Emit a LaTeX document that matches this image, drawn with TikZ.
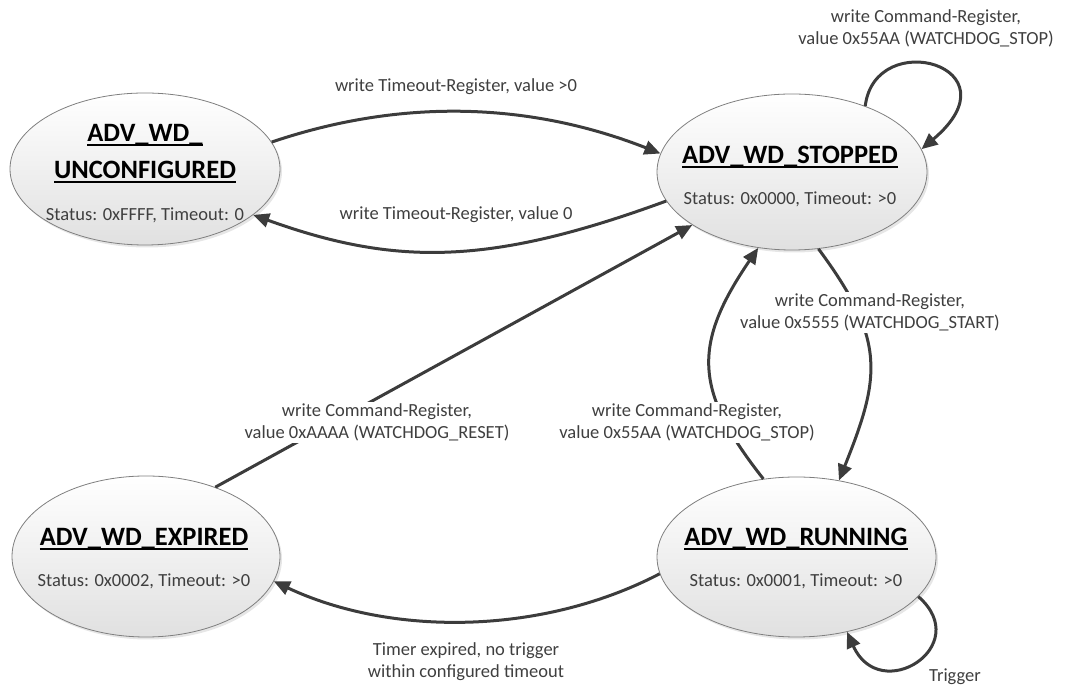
\documentclass[tikz,border=0pt]{standalone}
\usepackage{fontspec}
\setmainfont{Carlito}
\usetikzlibrary{arrows.meta,shadows,shapes.geometric}
\definecolor{edgec}{HTML}{3C3C3C}
\definecolor{txtc}{HTML}{3F3F3F}
\definecolor{borderc}{HTML}{7F7F7F}
\newcommand\ulbox[1]{\setbox0\hbox{#1}\rlap{\raisebox{-4.5bp}{\rule{\wd0}{2.2bp}}}\box0}
\tikzset{
 state/.style={ellipse, draw=borderc, line width=0.8bp, inner sep=0pt,
   top color=white, bottom color=black!12,
   drop shadow={shadow xshift=2bp, shadow yshift=-2.5bp, opacity=0.2}},
 ttl/.style={anchor=base, inner sep=0pt, font=\fontsize{26.5bp}{30bp}\selectfont\bfseries, text=black},
 stat/.style={anchor=base, inner sep=0pt, font=\fontsize{18.5bp}{22bp}\selectfont, text=txtc},
 lbl/.style={align=center, inner sep=1.5bp, font=\fontsize{18.5bp}{22bp}\selectfont, text=txtc},
 conn/.style={draw=edgec, line width=3bp, -{Triangle[length=16bp,width=14bp]}},
}
\begin{document}
\begin{tikzpicture}[x=1bp,y=1bp]
\useasboundingbox (0,0) rectangle (1067,686);

% states
\node[state, minimum width=270bp, minimum height=152bp] (unconf) at (145,517) {};
\node[state, minimum width=270bp, minimum height=156bp] (stopped) at (792,514) {};
\node[state, minimum width=279bp, minimum height=160bp] (running) at (796.5,129) {};
\node[state, minimum width=268bp, minimum height=161bp] (expired) at (146,129.5) {};

% state texts
\node[ttl] (tu1) at (145,544) {\ulbox{ADV\_WD\_}};
\node[ttl] (tu2) at (145,507) {\ulbox{UNCONFIGURED}};
\node[stat] (su) at (145,465) {Status: 0xFFFF, Timeout: 0};
\node[ttl] (ts) at (790,522) {\ulbox{ADV\_WD\_STOPPED}};
\node[stat] (ss) at (790,481) {Status: 0x0000, Timeout: >0};
\node[ttl] (tr) at (796,140) {\ulbox{ADV\_WD\_RUNNING}};
\node[stat] (sr) at (796,99) {Status: 0x0001, Timeout: >0};
\node[ttl] (te) at (144,140) {\ulbox{ADV\_WD\_EXPIRED}};
\node[stat] (se) at (144,99) {Status: 0x0002, Timeout: >0};

% connectors
\draw[conn] (unconf.12) .. controls (396,586) and (524,586) .. (stopped.172);
\draw[conn] (stopped.193) .. controls (489,420) and (395,420) .. (unconf.337);
\draw[conn] (expired.45) -- (stopped.208);
\draw[conn] (stopped.289) .. controls (886,346) and (881,310) .. (running.61);
\draw[conn] (running.113) .. controls (694,295) and (692,341) .. (stopped.246);
\draw[conn] (running.187) .. controls (540,50) and (390,50) .. (expired.349);
\draw[conn] (stopped.42) .. controls (875,660) and (1020,620) .. (stopped.10);
\draw[conn] (running.342) .. controls (975,40) and (880,-20) .. (running.304);

% labels
\node[lbl] (l1) at (456,599) {write Timeout-Register, value >0};
\node[lbl] (l2) at (456,471) {write Timeout-Register, value 0};
\node[lbl] (l3) at (926,657.5) {write Command-Register,\\value 0x55AA (WATCHDOG\_STOP)};
\node[lbl, fill=white] (l4) at (870,373.5) {write Command-Register,\\value 0x5555 (WATCHDOG\_START)};
\node[lbl, fill=white] (l5) at (687,263.5) {write Command-Register,\\value 0x55AA (WATCHDOG\_STOP)};
\node[lbl, fill=white] (l6) at (377,263.5) {write Command-Register,\\value 0xAAAA (WATCHDOG\_RESET)};
\node[lbl] (l7) at (466,24.5) {Timer expired, no trigger\\within configured timeout};
\node[lbl] (l8) at (955,9) {Trigger};
\end{tikzpicture}
\end{document}
